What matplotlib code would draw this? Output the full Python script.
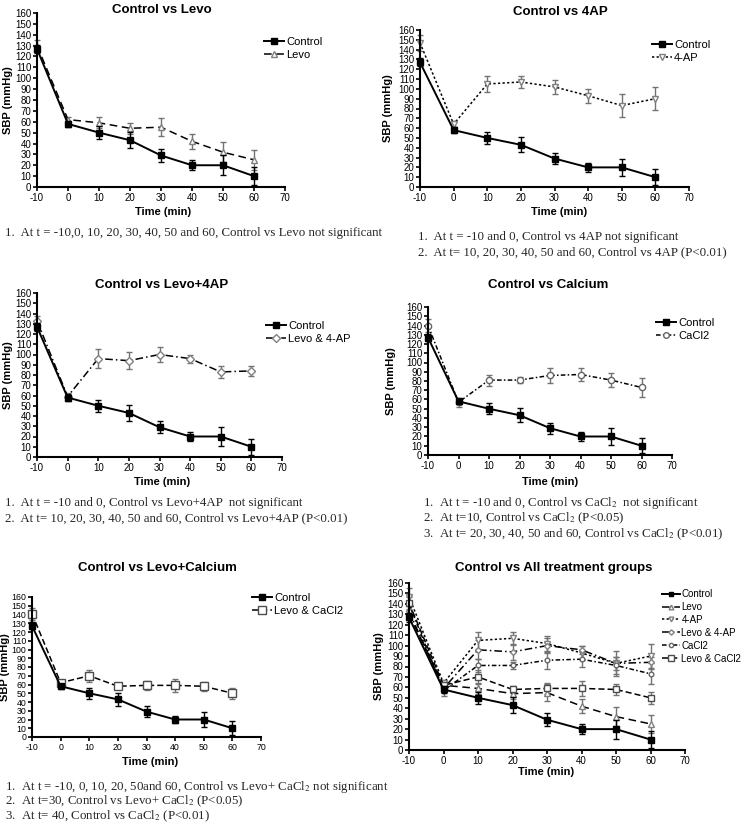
import matplotlib

matplotlib.use("Agg")
import matplotlib.pyplot as plt  # noqa: E402
from matplotlib.lines import Line2D  # noqa: E402

plt.rcParams.update({
    "font.family": ["Liberation Sans", "DejaVu Sans"],
    "mathtext.fontset": "stix",
    "axes.unicode_minus": False,
})

W, H = 741, 823

# SBP (mmHg) means and error bars
time = [-10, 0, 10, 20, 30, 40, 50, 60]
control_mean = [127, 58, 50, 43, 29, 20, 20, 10]
control_err = [4, 3, 6, 7.5, 6, 4.5, 9, 8]
levo_mean = [130, 62, 59, 54, 55, 42, 32, 25]
levo_err = [5, 2, 5, 5, 8, 7, 9, 9]
ap4_mean = [147, 64, 105, 107, 102, 93, 83, 90]
ap4_err = [8, 3, 8, 6, 7, 7, 12, 12]
levo_ap4_mean = [133, 59, 96, 94, 100, 96, 83, 84]
levo_ap4_err = [5, 3, 9, 8, 7, 4, 6, 5]
cacl2_mean = [140, 57, 81, 81, 86, 87, 81, 73]
cacl2_err = [7, 5, 6, 3, 8, 7, 8, 10]
levo_cacl2_mean = [141, 62, 70, 58, 59, 59, 58, 50]
levo_cacl2_err = [7, 3, 7, 3, 5, 7, 5, 6]

SERIES = {
    "Control": dict(mean=control_mean, err=control_err, ls="-", marker="s",
                    ms=5, mfc="black", mec="black", ecol="black", lw=1.4),
    "Levo": dict(mean=levo_mean, err=levo_err, ls=(0, (5, 3)), marker="^",
                 ms=5, mfc="white", mec="0.5", ecol="0.45", lw=1.1),
    "4-AP": dict(mean=ap4_mean, err=ap4_err, ls=(0, (1.5, 1.5)), marker="v",
                 ms=5, mfc="white", mec="0.5", ecol="0.45", lw=1.1),
    "Levo & 4-AP": dict(mean=levo_ap4_mean, err=levo_ap4_err, ls=(0, (5, 2, 1, 2)),
                        marker="D", ms=4, mfc="white", mec="0.5", ecol="0.45", lw=1.1),
    "CaCl2": dict(mean=cacl2_mean, err=cacl2_err, ls=(0, (3, 1.5, 1, 1.5)),
                  marker="o", ms=4.5, mfc="white", mec="0.4", ecol="0.45", lw=1.1),
    "Levo & CaCl2": dict(mean=levo_cacl2_mean, err=levo_cacl2_err, ls=(0, (4, 2)),
                         marker="s", ms=6, mfc="white", mec="0.3", ecol="0.45", lw=1.1),
}

fig = plt.figure(figsize=(W / 100, H / 100), dpi=100)


def fx(x):
    return x / W


def fy(y):
    return 1 - y / H


def panel(box, keys, title, title_xy, xlab_xy, ylab_x, leg_xy, leg_fs=8, small=1.0, tick_fs=7):
    x0, y0, x1, y1 = box
    ax = fig.add_axes([fx(x0), fy(y1), (x1 - x0) / W, (y1 - y0) / H])
    handles = []
    for k in keys:
        s = SERIES[k]
        ax.errorbar(time, s["mean"], yerr=s["err"], color="black", ls=s["ls"], lw=s["lw"],
                    marker=s["marker"], ms=s["ms"] * small, mfc=s["mfc"], mec=s["mec"],
                    ecolor=s["ecol"], elinewidth=1.0, capsize=2.5, capthick=1.0,
                    clip_on=False, zorder=3 if k == "Control" else 2)
        handles.append(Line2D([], [], color="black", ls=s["ls"], lw=s["lw"], marker=s["marker"],
                              ms=s["ms"] * small * 0.9, mfc=s["mfc"], mec=s["mec"]))
    ax.set_xlim(-10, 70)
    ax.set_ylim(0, 160)
    ax.set_xticks(range(-10, 71, 10))
    ax.set_yticks(range(0, 161, 10))
    for sp in ["top", "right"]:
        ax.spines[sp].set_visible(False)
    for sp in ["left", "bottom"]:
        ax.spines[sp].set_linewidth(1.5)
    ax.tick_params(labelsize=tick_fs, length=3, width=1.2, pad=1)
    fig.text(fx(title_xy[0]), fy(title_xy[1]), title, ha="center", va="center",
             fontsize=9.5, fontweight="bold")
    fig.text(fx(xlab_xy[0]), fy(xlab_xy[1]), "Time (min)", ha="center", va="center",
             fontsize=8, fontweight="bold")
    fig.text(fx(ylab_x), fy((y0 + y1) / 2), "SBP (mmHg)", ha="center", va="center",
             rotation=90, fontsize=8, fontweight="bold")
    fig.legend(handles, keys, loc="upper left", bbox_to_anchor=(fx(leg_xy[0]), fy(leg_xy[1])),
               frameon=False, fontsize=leg_fs, handlelength=1.8, handletextpad=0.2,
               borderpad=0, borderaxespad=0, labelspacing=0.3)
    return ax


def notes(x, y0, lines, dy=15.5):
    for i, t in enumerate(lines):
        fig.text(fx(x), fy(y0 + i * dy), t, ha="left", va="center", fontsize=9.3,
                 family=["Liberation Serif", "DejaVu Serif"], color="0.15")


panel((37, 13, 285, 187), ["Control", "Levo"], "Control vs Levo",
      (162, 10), (163, 212), 8, (264, 37))
notes(5, 233, ["1.  At t = -10,0, 10, 20, 30, 40, 50 and 60, Control vs Levo not significant"])

panel((420, 30, 689, 187), ["Control", "4-AP"], "Control vs 4AP",
      (560, 12), (559, 212), 388, (652, 40))
notes(418, 237, ["1.  At t = -10 and 0, Control vs 4AP not significant",
                 "2.  At t= 10, 20, 30, 40, 50 and 60, Control vs 4AP (P<0.01)"])

panel((37, 293, 282, 457), ["Control", "Levo & 4-AP"], "Control vs Levo+4AP",
      (162, 285), (162, 482), 8, (266, 321))
notes(5, 503, ["1.  At t = -10 and 0, Control vs Levo+4AP  not significant",
               "2.  At t= 10, 20, 30, 40, 50 and 60, Control vs Levo+4AP (P<0.01)"])

panel((428, 307, 672, 455), ["Control", "CaCl2"], "Control vs Calcium",
      (548, 285), (550, 482), 391, (656, 318))
notes(423, 503, ["1.  At t = -10 and 0, Control vs CaCl$_2$  not significant",
                 "2.  At t=10, Control vs CaCl$_2$ (P<0.05)",
                 "3.  At t= 20, 30, 40, 50 and 60, Control vs CaCl$_2$ (P<0.01)"])

panel((32, 597, 261, 737), ["Control", "Levo & CaCl2"], "Control vs Levo+Calcium",
      (157, 568), (150, 762), 5, (252, 593), tick_fs=6.3)
notes(5, 787, ["1.  At t = -10, 0, 10, 20, 50and 60, Control vs Levo+ CaCl$_2$ not significant",
               "2.  At t=30, Control vs Levo+ CaCl$_2$ (P<0.05)",
               "3.  At t= 40, Control vs CaCl$_2$ (P<0.01)"], dy=14.5)

panel((409, 583, 685, 750), list(SERIES.keys()), "Control vs All treatment groups",
      (554, 568), (546, 772), 379, (662, 589), leg_fs=7, small=0.75)

fig.savefig("out.png", dpi=100)
